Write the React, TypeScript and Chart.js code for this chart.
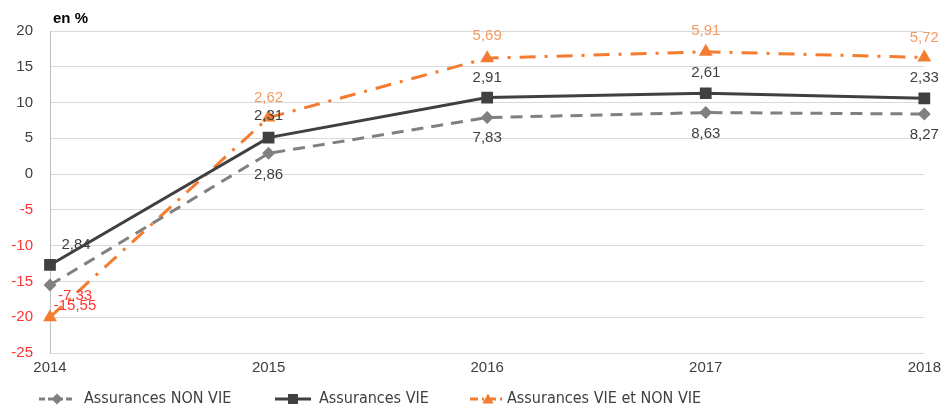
import React, { useEffect, useRef } from "react";
import { Chart, registerables } from "chart.js";

Chart.register(...registerables);

const years = ["2014", "2015", "2016", "2017", "2018"];
const nonVie = [-15.5, 2.9, 7.9, 8.6, 8.4];
const vie = [-12.7, 5.1, 10.7, 11.3, 10.6];
const vieNonVie = [-20.0, 7.9, 16.2, 17.1, 16.3];
const nonVieLabels = ["-15,55", "2,86", "7,83", "8,63", "8,27"];
const vieLabels = ["2,84", "2,31", "2,91", "2,61", "2,33"];
const vieNonVieLabels = ["-7,33", "2,62", "5,69", "5,91", "5,72"];
const seriesNames = ["Assurances NON VIE", "Assurances VIE", "Assurances VIE et NON VIE"];
const yTicks = { min: -25, max: 20, step: 5 };

const GREY = "#808080";
const DARK = "#404040";
const ORANGE = "#F47C30";
const ORANGE_LABEL = "#F59A63";
const RED = "#FF3333";
const TEXT = "#404040";
const NUM_FONT = '"Liberation Sans", Arial, sans-serif';
const NARROW_FONT = '"Liberation Sans Narrow", "DejaVu Sans Condensed", "Liberation Sans", sans-serif';

const labelSets = [nonVieLabels, vieLabels, vieNonVieLabels];
const labelColors = [TEXT, TEXT, ORANGE_LABEL];
// pixel offsets of labels relative to points (style, not data)
const labelOffsets = [
  [[25, 21], [0, 21], [0, 20], [0, 21], [0, 21]],
  [[26, -20], [0, -22], [0, -20], [0, -20], [0, -20]],
  [[25, -21], [0, -20], [0, -22], [0, -21], [0, -20]],
];

const dataLabelPlugin = {
  id: "dataLabels",
  afterDatasetsDraw(chart: any) {
    const ctx = chart.ctx;
    ctx.save();
    ctx.font = `15px ${NUM_FONT}`;
    ctx.textBaseline = "middle";
    ctx.textAlign = "left";
    chart.data.datasets.forEach((ds: any, di: number) => {
      const meta = chart.getDatasetMeta(di);
      meta.data.forEach((pt: any, i: number) => {
        const txt = labelSets[di][i];
        const off = labelOffsets[di][i];
        const w = ctx.measureText(txt).width;
        let x = pt.x + off[0] - w / 2;
        if (x + w > chart.width - 1) x = chart.width - 1 - w;
        const y = pt.y + off[1];
        ctx.fillStyle = txt.startsWith("-") ? RED : labelColors[di];
        ctx.fillText(txt, x, y);
      });
    });
    ctx.restore();
  },
};

const legendItems = [
  { color: GREY, dash: [6, 3], style: "diamond", x: 39, textX: 84 },
  { color: DARK, dash: [], style: "square", x: 275, textX: 319 },
  { color: ORANGE, dash: [8, 4, 2, 4], style: "triangle", x: 470, textX: 507 },
];

function drawMarker(ctx: any, style: string, x: number, y: number, r: number, color: string) {
  ctx.fillStyle = color;
  ctx.beginPath();
  if (style === "diamond") {
    ctx.moveTo(x, y - r);
    ctx.lineTo(x + r, y);
    ctx.lineTo(x, y + r);
    ctx.lineTo(x - r, y);
  } else if (style === "square") {
    ctx.rect(x - r, y - r, 2 * r, 2 * r);
  } else {
    ctx.moveTo(x, y - r);
    ctx.lineTo(x + r, y + r * 0.8);
    ctx.lineTo(x - r, y + r * 0.8);
  }
  ctx.closePath();
  ctx.fill();
}

const chromePlugin = {
  id: "chrome",
  afterDraw(chart: any) {
    const ctx = chart.ctx;
    ctx.save();
    // title
    ctx.font = `bold 15px ${NUM_FONT}`;
    ctx.fillStyle = "#000";
    ctx.textBaseline = "middle";
    ctx.textAlign = "left";
    ctx.fillText("en %", 53, 19);
    // legend
    const ly = 399;
    legendItems.forEach((it, i) => {
      ctx.strokeStyle = it.color;
      ctx.lineWidth = 3;
      ctx.setLineDash(it.dash);
      ctx.beginPath();
      ctx.moveTo(it.x, ly);
      ctx.lineTo(it.x + 36, ly);
      ctx.stroke();
      ctx.setLineDash([]);
      drawMarker(ctx, it.style, it.x + 18, ly, it.style === "square" ? 5 : 5.5, it.color);
      ctx.font = `16px ${NARROW_FONT}`;
      ctx.fillStyle = TEXT;
      ctx.fillText(seriesNames[i], it.textX, ly);
    });
    ctx.restore();
  },
};

export default function App() {
  const ref = useRef<HTMLCanvasElement | null>(null);
  useEffect(() => {
    if (!ref.current) return;
    const chart = new Chart(ref.current, {
      type: "line",
      data: {
        labels: years,
        datasets: [
          {
            label: seriesNames[0],
            data: nonVie,
            borderColor: GREY,
            backgroundColor: GREY,
            borderWidth: 3,
            borderDash: [12, 8],
            pointStyle: "rectRot",
            pointRadius: 6.5,
            pointBorderWidth: 0,
            tension: 0,
          },
          {
            label: seriesNames[1],
            data: vie,
            borderColor: DARK,
            backgroundColor: DARK,
            borderWidth: 3,
            pointStyle: "rect",
            pointRadius: 8.3,
            pointBorderWidth: 0,
            tension: 0,
          },
          {
            label: seriesNames[2],
            data: vieNonVie,
            borderColor: ORANGE,
            backgroundColor: ORANGE,
            borderWidth: 3,
            borderDash: [16, 9, 3, 9],
            pointStyle: "triangle",
            pointRadius: 8,
            pointBorderWidth: 0,
            tension: 0,
          },
        ],
      },
      options: {
        responsive: false,
        animation: false,
        layout: { padding: { top: 31, right: 17, bottom: 25, left: 0 } },
        plugins: {
          legend: { display: false },
          title: { display: false },
          tooltip: { enabled: false },
        },
        scales: {
          x: {
            offset: false,
            grid: { display: false, drawTicks: false },
            border: { display: false },
            ticks: {
              color: TEXT,
              font: { family: NUM_FONT, size: 15 },
              padding: 6,
              maxRotation: 0,
            },
            afterFit: (s: any) => {
              s.height = 30;
            },
          },
          y: {
            min: yTicks.min,
            max: yTicks.max,
            ticks: {
              stepSize: yTicks.step,
              color: (c: any) => (c.tick && c.tick.value < 0 ? RED : TEXT),
              font: { family: NUM_FONT, size: 15 },
              padding: 17,
            },
            grid: { color: "#d9d9d9", drawTicks: false, lineWidth: 1 },
            border: { display: true, color: "#bfbfbf", width: 1 },
            afterFit: (s: any) => {
              s.width = 50;
            },
          },
        },
      },
      plugins: [dataLabelPlugin, chromePlugin],
    });
    return () => chart.destroy();
  }, []);
  return (
    <div style={{ position: "absolute", left: 0, top: 0, width: 947, height: 408, background: "#fff" }}>
      <canvas ref={ref} width={947} height={408} />
    </div>
  );
}
